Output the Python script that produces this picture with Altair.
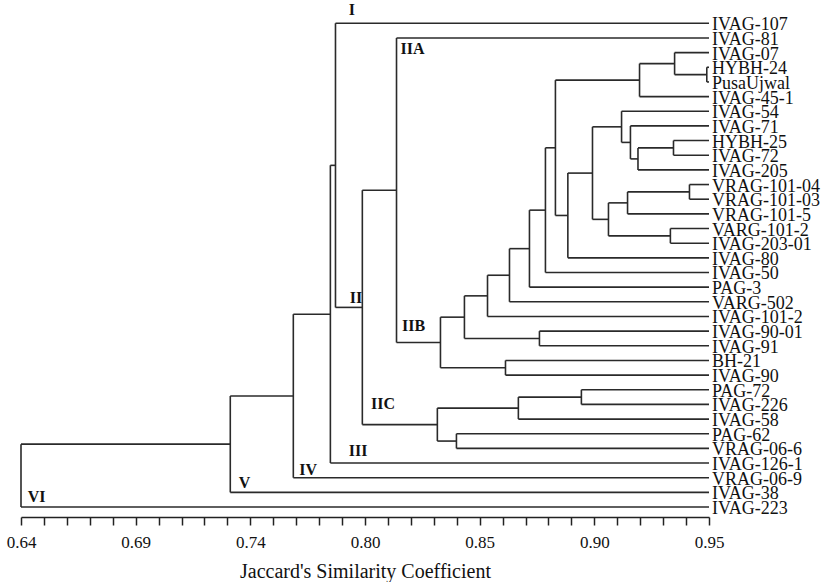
import altair as alt
import pandas as pd

# ---------------- data ----------------
leaves = [
    "IVAG-107", "IVAG-81", "IVAG-07", "HYBH-24", "PusaUjwal", "IVAG-45-1",
    "IVAG-54", "IVAG-71", "HYBH-25", "IVAG-72", "IVAG-205", "VRAG-101-04",
    "VRAG-101-03", "VRAG-101-5", "VARG-101-2", "IVAG-203-01", "IVAG-80",
    "IVAG-50", "PAG-3", "VARG-502", "IVAG-101-2", "IVAG-90-01", "IVAG-91",
    "BH-21", "IVAG-90", "PAG-72", "IVAG-226", "IVAG-58", "PAG-62",
    "VRAG-06-6", "IVAG-126-1", "VRAG-06-9", "IVAG-38", "IVAG-223",
]

# linkage: (left child, right child, similarity at merge, node name)
merge_left = ["HYBH-24", "IVAG-07", "n2", "HYBH-25", "n4", "IVAG-71", "IVAG-54",
              "VRAG-101-04", "n8", "VARG-101-2", "n9", "n7", "n12", "n3", "n14",
              "n15", "n16", "n17", "IVAG-90-01", "n18", "BH-21", "n20", "IVAG-81",
              "PAG-72", "n22", "PAG-62", "n23", "IIA", "IVAG-107", "I", "III", "IV", "V"]
merge_right = ["PusaUjwal", "n1", "IVAG-45-1", "IVAG-72", "IVAG-205", "n5", "n6",
               "VRAG-101-03", "VRAG-101-5", "IVAG-203-01", "n10", "n11", "IVAG-80",
               "n13", "IVAG-50", "PAG-3", "VARG-502", "IVAG-101-2", "IVAG-91", "n19",
               "IVAG-90", "n21", "IIB", "IVAG-226", "IVAG-58", "VRAG-06-6", "n24",
               "IIC", "II", "IVAG-126-1", "VRAG-06-9", "IVAG-38", "IVAG-223"]
merge_height = [0.949, 0.9345, 0.9187, 0.934, 0.918, 0.9146, 0.9106,
                0.9412, 0.9133, 0.9326, 0.9047, 0.8975, 0.8864, 0.8808, 0.8763,
                0.8691, 0.8601, 0.8502, 0.8736, 0.8398, 0.8583, 0.829, 0.8092,
                0.8925, 0.8641, 0.8362, 0.8276, 0.7938, 0.7817, 0.7794, 0.7627,
                0.7343, 0.64]
merge_name = ["n1", "n2", "n3", "n4", "n5", "n6", "n7", "n8", "n9", "n10", "n11",
              "n12", "n13", "n14", "n15", "n16", "n17", "n18", "n19", "n20", "n21",
              "IIB", "IIA", "n22", "n23", "n24", "IIC", "II", "I", "III", "IV", "V", "VI"]

cluster_labels = ["I", "IIA", "II", "IIB", "IIC", "III", "IV", "V", "VI"]
cluster_label_x = [0.7877, 0.8110, 0.7881, 0.8117, 0.7977, 0.7877, 0.7654, 0.7381, 0.6430]
cluster_label_y = [-0.91, 1.77, 18.76, 20.63, 25.99, 29.15, 30.47, 31.38, 32.29]

X_MIN, X_MAX = 0.64, 0.95
tick_labels = ["0.64", "0.69", "0.74", "0.80", "0.85", "0.90", "0.95"]
MINOR_PER_MAJOR = 5

# ---------------- build dendrogram segments ----------------
pos = {leaf: float(i) for i, leaf in enumerate(leaves)}
height_of = {leaf: X_MAX for leaf in leaves}
parent_height = {}
segs = []
for l, r, h, n in zip(merge_left, merge_right, merge_height, merge_name):
    pos[n] = (pos[l] + pos[r]) / 2.0
    height_of[n] = h
    parent_height[l] = h
    parent_height[r] = h
    segs.append({"x": h, "x2": h, "y": pos[l], "y2": pos[r]})
for node, ph in parent_height.items():
    segs.append({"x": height_of[node], "x2": ph, "y": pos[node], "y2": pos[node]})
seg_df = pd.DataFrame(segs)

leaf_df = pd.DataFrame({"label": leaves, "y": [pos[l] for l in leaves], "x": X_MAX})
clab_df = pd.DataFrame({"label": cluster_labels, "x": cluster_label_x, "y": cluster_label_y})

n_int = MINOR_PER_MAJOR * (len(tick_labels) - 1)
tick_values = [X_MIN + i * (X_MAX - X_MIN) / n_int for i in range(n_int + 1)]
label_arr = []
for i in range(n_int + 1):
    label_arr.append(tick_labels[i // MINOR_PER_MAJOR] if i % MINOR_PER_MAJOR == 0 else "")
label_expr = "[" + ",".join("'" + s + "'" for s in label_arr) + "]" + \
    f"[round((datum.value - {X_MIN}) * {n_int} / {X_MAX - X_MIN})]"

FONT = "Liberation Serif"
xscale = alt.Scale(domain=[X_MIN, X_MAX], nice=False, zero=False)
yscale = alt.Scale(domain=[-1.59, 33.68], nice=False, zero=False, reverse=True)

lines = alt.Chart(seg_df).mark_rule(color="#2a2a2a", strokeWidth=1.6).encode(
    x=alt.X("x:Q", scale=xscale, axis=alt.Axis(
        values=tick_values, tickCount=len(tick_values) + 5, labelExpr=label_expr,
        title="Jaccard's Similarity Coefficient",
        grid=False, domainColor="#222", tickColor="#222", tickSize=8,
        domainWidth=1.5, tickWidth=1.5,
        labelFont=FONT, labelFontSize=17, labelColor="#111", labelPadding=9,
        labelFlush=False, labelOverlap=False,
        titleFont=FONT, titleFontSize=20, titleFontWeight="normal",
        titleColor="#111", titlePadding=11)),
    x2="x2:Q",
    y=alt.Y("y:Q", scale=yscale, axis=None),
    y2="y2:Q",
)

leaf_text = alt.Chart(leaf_df).mark_text(
    align="left", baseline="middle", dx=3, dy=2, font=FONT, fontSize=18, color="#111"
).encode(x=alt.X("x:Q", scale=xscale), y=alt.Y("y:Q", scale=yscale), text="label:N")

cl_text = alt.Chart(clab_df).mark_text(
    align="left", baseline="middle", font=FONT, fontSize=16, fontWeight="bold", color="#111"
).encode(x=alt.X("x:Q", scale=xscale), y=alt.Y("y:Q", scale=yscale), text="label:N")

chart = alt.layer(lines, leaf_text, cl_text).properties(
    width=688, height=517,
    autosize=alt.AutoSizeParams(type="none"),
    padding={"left": 21, "top": 0, "right": 121, "bottom": 65},
    background="white",
).configure_view(stroke=None)

chart.save("out.html", embed_options={"renderer": "svg", "actions": False})
